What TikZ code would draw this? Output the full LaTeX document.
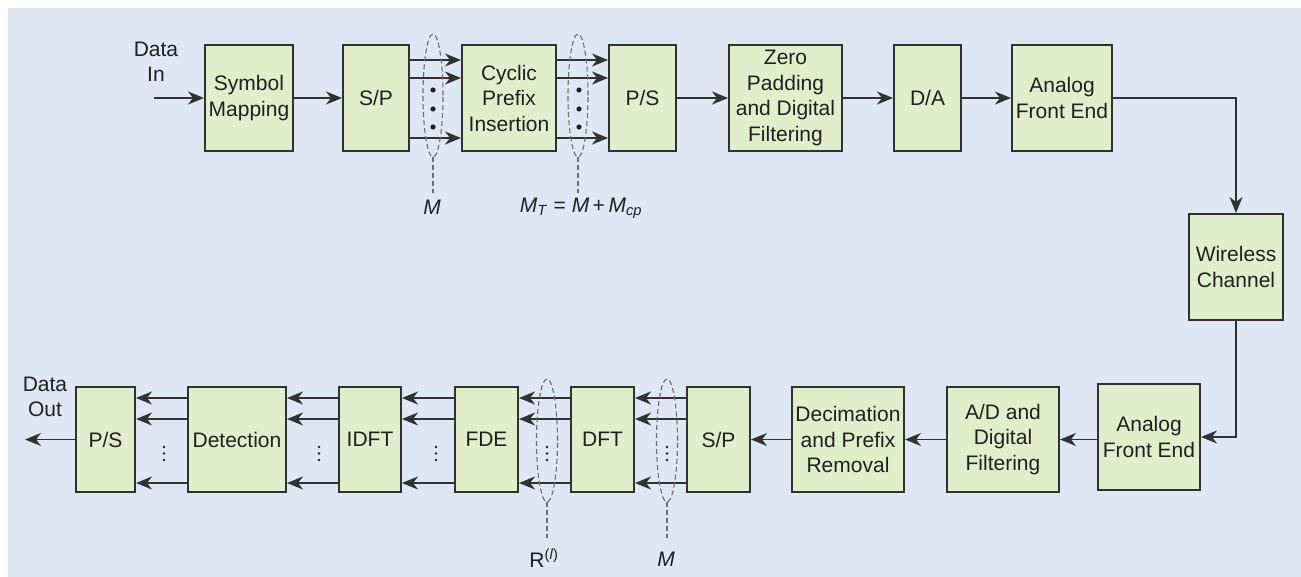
\documentclass[tikz,border=0pt]{standalone}
\usepackage{fontspec}
\setmainfont{Liberation Sans}
\usetikzlibrary{arrows.meta,calc}
\definecolor{bgc}{RGB}{223,230,244}
\definecolor{boxc}{RGB}{226,237,204}
\definecolor{edgec}{RGB}{50,50,50}
\definecolor{txtc}{RGB}{35,31,32}
\definecolor{dashc}{RGB}{110,110,110}
\tikzset{
  blk/.style={draw=edgec, line width=2pt, fill=boxc, align=center, inner sep=0pt,
              minimum height=106pt, text=txtc, font=\fontsize{21}{25.5}\selectfont},
  lbl/.style={align=center, inner sep=0pt, text=txtc, font=\fontsize{21}{25.5}\selectfont},
  arr/.style={draw=edgec, line width=1.6pt, -{Stealth[length=16pt,width=13pt,inset=5pt]}},
  grp/.style={draw=dashc, line width=1.1pt, dash pattern=on 5pt off 3pt},
}
\begin{document}
\begin{tikzpicture}[x=1pt,y=-1pt]
\useasboundingbox (0,0) rectangle (1301,577);
\fill[bgc] (8,8) rectangle (1301,577);

% top row
\node[blk, minimum width=88pt] (sm) at (249,98) {Symbol\\Mapping};
\node[blk, minimum width=66pt] (spa) at (376,98) {S/P};
\node[blk, minimum width=94pt] (cpi) at (509,98) {Cyclic\\Prefix\\Insertion};
\node[blk, minimum width=67pt] (psa) at (642.5,98) {P/S};
\node[blk, minimum width=113pt] (zp) at (785.5,98) {Zero\\Padding\\and Digital\\Filtering};
\node[blk, minimum width=67pt] (da) at (927.5,98) {D/A};
\node[blk, minimum width=100pt] (afea) at (1062,98) {Analog\\Front End};
\node[blk, minimum width=94pt] (wc) at (1236,267) {Wireless\\Channel};

% bottom row
\node[blk, minimum width=102pt] (afeb) at (1149,437) {Analog\\Front End};
\node[blk, minimum width=112pt, minimum height=105pt] (ad) at (1003,439.5) {A/D and\\Digital\\Filtering};
\node[blk, minimum width=112pt, minimum height=105pt] (dec) at (848,439.5) {Decimation\\and Prefix\\Removal};
\node[blk, minimum width=63pt, minimum height=105pt] (spb) at (718.5,439.5) {S/P};
\node[blk, minimum width=63pt, minimum height=105pt] (dft) at (602.5,439.5) {DFT};
\node[blk, minimum width=63pt, minimum height=105pt] (fde) at (486.5,439.5) {FDE};
\node[blk, minimum width=62pt, minimum height=105pt] (idft) at (370,439.5) {IDFT};
\node[blk, minimum width=98pt, minimum height=105pt] (det) at (237,439.5) {Detection};
\node[blk, minimum width=59pt, minimum height=105pt] (psb) at (105.5,439.5) {P/S};

% text labels
\node[lbl] (din) at (156,62) {Data\\In};
\node[lbl] (dout) at (45,397) {Data\\Out};
\coordinate (inpt) at (154,98);
\coordinate (outpt) at (25,439.5);

% top connectors
\draw[arr] (inpt) -- (sm.west);
\draw[arr] (sm.east) -- (spa.west);
\foreach \yy in {60,78,138} {
  \draw[arr] (spa.east |- 0,\yy) -- (cpi.west |- 0,\yy);
  \draw[arr] (cpi.east |- 0,\yy) -- (psa.west |- 0,\yy);
}
\draw[arr] (psa.east) -- (zp.west);
\draw[arr] (zp.east) -- (da.west);
\draw[arr] (da.east) -- (afea.west);
\draw[arr] (afea.east) -| (wc.north);
\draw[arr] (wc.south) |- (afeb.east);

% bottom connectors
\draw[arr] (afeb.west |- ad.east) -- (ad.east);
\draw[arr] (ad.west) -- (dec.east);
\draw[arr] (dec.west) -- (spb.east);
\foreach \yy in {398,419,483} {
  \draw[arr] (spb.west |- 0,\yy) -- (dft.east |- 0,\yy);
  \draw[arr] (dft.west |- 0,\yy) -- (fde.east |- 0,\yy);
  \draw[arr] (fde.west |- 0,\yy) -- (idft.east |- 0,\yy);
  \draw[arr] (idft.west |- 0,\yy) -- (det.east |- 0,\yy);
  \draw[arr] (det.west |- 0,\yy) -- (psb.east |- 0,\yy);
}
\draw[arr] (psb.west) -- (outpt);

% top dots
\foreach \xx in {433,579} {
  \foreach \yy in {90,109,127} \fill[txtc] (\xx,\yy) circle (2.6pt);
}
% bottom dots
\foreach \xx in {164,319,436,547,667} {
  \foreach \yy in {447,453.5,460} \fill[txtc] (\xx,\yy) circle (1.3pt);
}

% grouping ellipses
\draw[grp] (433,95.5) ellipse (10pt and 61.5pt);
\coordinate (ga) at (433,193);
\draw[grp] (433,157) -- (ga);
\node[lbl, font=\fontsize{21}{25}\selectfont\itshape] (gal) at (432,207) {M};

\draw[grp] (578,95.5) ellipse (10pt and 61.5pt);
\coordinate (gb) at (578,193);
\draw[grp] (578,157) -- (gb);
\node[lbl] (gbl) at (581,208) {\textit{M}\textsubscript{\textit{T}} = \textit{M}\,+\,\textit{M}\textsubscript{\textit{cp}}};

\draw[grp] (547,440.5) ellipse (10.5pt and 61.5pt);
\coordinate (gc) at (547,538);
\draw[grp] (547,502) -- (gc);
\node[lbl] (gcl) at (544,558) {R\textsuperscript{(\textit{l})}};

\draw[grp] (667,440.5) ellipse (10.5pt and 61.5pt);
\coordinate (gd) at (667,538);
\draw[grp] (667,502) -- (gd);
\node[lbl, font=\fontsize{21}{25}\selectfont\itshape] (gdl) at (666,559) {M};
\end{tikzpicture}
\end{document}
